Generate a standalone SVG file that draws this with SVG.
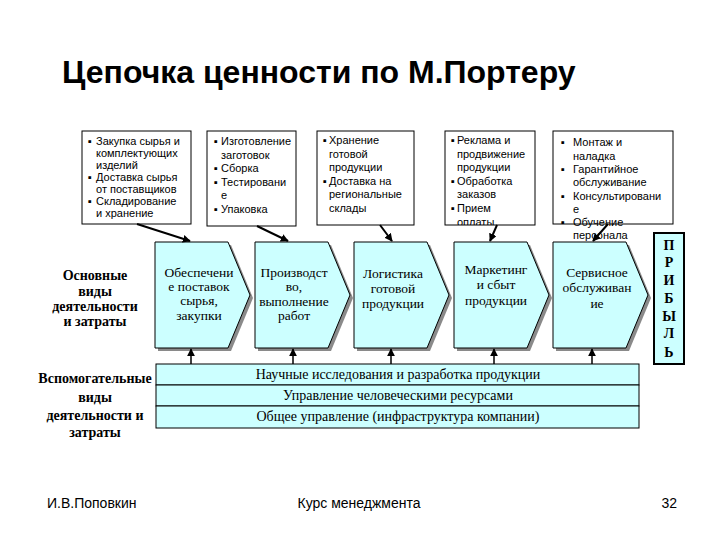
<svg xmlns="http://www.w3.org/2000/svg" width="720" height="540" viewBox="0 0 720 540">
<defs>
<style>
.box{fill:#fff;stroke:#000;stroke-width:1}
.bt{font-family:"Liberation Sans",Arial,sans-serif;font-size:11px;fill:#000}
.chev{fill:#ccffff;stroke:#000;stroke-width:1}
.shadow{fill:#8a8a8a;stroke:none}
.ct{font-family:"Liberation Serif","Times New Roman",serif;font-size:13.5px;fill:#000;text-anchor:middle}
.lt{font-family:"Liberation Serif","Times New Roman",serif;font-size:14px;font-weight:bold;fill:#000;text-anchor:middle}
.band{fill:#ccffff;stroke:#000;stroke-width:1}
.bnt{font-family:"Liberation Serif","Times New Roman",serif;font-size:14px;fill:#000;text-anchor:middle}
.ft{font-family:"Liberation Sans",Arial,sans-serif;font-size:14px;fill:#000}
.arr{stroke:#000;stroke-width:2;fill:none;marker-end:url(#ah)}
.arr2{stroke:#000;stroke-width:1.5;fill:none;marker-end:url(#ah)}
</style>
<marker id="ah" viewBox="0 0 10 10" refX="9" refY="5" markerWidth="8" markerHeight="8" markerUnits="userSpaceOnUse" orient="auto">
<path d="M0,0 L10,5 L0,10 z" fill="#000"/>
</marker>
<clipPath id="clip4"><rect x="445" y="131" width="90" height="94"/></clipPath>
</defs>
<rect width="720" height="540" fill="#fff"/>

<g id="title">
<text x="62" y="83" font-family="Liberation Sans,Arial,sans-serif" font-size="32" font-weight="bold">Цепочка ценности по М.Портеру</text>
</g>

<g id="box1">
<rect class="box" x="82" y="131" width="109" height="93"/>
<text class="bt"><tspan x="88" y="145">▪</tspan><tspan x="96" y="145">Закупка сырья и</tspan><tspan x="96" y="157">комплектующих</tspan><tspan x="96" y="169">изделий</tspan><tspan x="88" y="181">▪</tspan><tspan x="96" y="181">Доставка сырья</tspan><tspan x="96" y="193">от поставщиков</tspan><tspan x="88" y="205">▪</tspan><tspan x="96" y="205">Складирование</tspan><tspan x="96" y="217">и хранение</tspan></text>
</g>

<g id="box2">
<rect class="box" x="207" y="131" width="89" height="95"/>
<text class="bt"><tspan x="214" y="145">▪</tspan><tspan x="221" y="145">Изготовление</tspan><tspan x="221" y="158.5">заготовок</tspan><tspan x="214" y="172">▪</tspan><tspan x="221" y="172">Сборка</tspan><tspan x="214" y="185.5">▪</tspan><tspan x="221" y="185.5">Тестировани</tspan><tspan x="221" y="199">е</tspan><tspan x="214" y="212.5">▪</tspan><tspan x="221" y="212.5">Упаковка</tspan></text>
</g>

<g id="box3">
<rect class="box" x="317" y="131" width="97" height="94"/>
<text class="bt"><tspan x="323" y="144">▪</tspan><tspan x="329" y="144">Хранение</tspan><tspan x="329" y="157.5">готовой</tspan><tspan x="329" y="171">продукции</tspan><tspan x="323" y="184.5">▪</tspan><tspan x="329" y="184.5">Доставка на</tspan><tspan x="329" y="198">региональные</tspan><tspan x="329" y="211.5">склады</tspan></text>
</g>

<g id="box4">
<rect class="box" x="445" y="131" width="90" height="94"/>
<text class="bt" clip-path="url(#clip4)"><tspan x="451" y="144">▪</tspan><tspan x="457" y="144">Реклама и</tspan><tspan x="457" y="157.5">продвижение</tspan><tspan x="457" y="171">продукции</tspan><tspan x="451" y="184.5">▪</tspan><tspan x="457" y="184.5">Обработка</tspan><tspan x="457" y="198">заказов</tspan><tspan x="451" y="211.5">▪</tspan><tspan x="457" y="211.5">Прием</tspan><tspan x="457" y="225.5">оплаты</tspan></text>
</g>

<g id="box5">
<text class="bt"><tspan x="561" y="146">▪</tspan><tspan x="573" y="146">Монтаж и</tspan><tspan x="573" y="159.5">наладка</tspan><tspan x="561" y="173">▪</tspan><tspan x="573" y="173">Гарантийное</tspan><tspan x="573" y="186">обслуживание</tspan><tspan x="561" y="199.5">▪</tspan><tspan x="573" y="199.5">Консультировани</tspan><tspan x="573" y="212.5">е</tspan><tspan x="561" y="226">▪</tspan><tspan x="573" y="226">Обучение</tspan><tspan x="573" y="239">персонала</tspan></text>
<rect class="box" x="553" y="131" width="120" height="93" style="fill:none"/>
</g>

<g id="chev1">
<polygon class="shadow" points="158,245 231,245 253,298 231,351 158,351"/>
<polygon class="chev" points="155,242 228,242 250,295 228,348 155,348"/>
<text class="ct"><tspan x="199" y="277">Обеспечени</tspan><tspan x="199" y="291">е поставок</tspan><tspan x="199" y="305">сырья,</tspan><tspan x="199" y="320">закупки</tspan></text>
</g>
<g id="chev2">
<polygon class="shadow" points="258,245 331,245 353,298 331,351 258,351"/>
<polygon class="chev" points="255,242 328,242 350,295 328,348 255,348"/>
<text class="ct"><tspan x="294" y="277">Производст</tspan><tspan x="294" y="291">во,</tspan><tspan x="294" y="306">выполнение</tspan><tspan x="294" y="320">работ</tspan></text>
</g>
<g id="chev3">
<polygon class="shadow" points="357,245 430,245 452,298 430,351 357,351"/>
<polygon class="chev" points="354,242 427,242 449,295 427,348 354,348"/>
<text class="ct"><tspan x="393" y="278">Логистика</tspan><tspan x="393" y="293">готовой</tspan><tspan x="393" y="308">продукции</tspan></text>
</g>
<g id="chev4">
<polygon class="shadow" points="457,245 530,245 552,298 530,351 457,351"/>
<polygon class="chev" points="454,242 527,242 549,295 527,348 454,348"/>
<text class="ct"><tspan x="496" y="274">Маркетинг</tspan><tspan x="496" y="289">и сбыт</tspan><tspan x="496" y="305">продукции</tspan></text>
</g>
<g id="chev5">
<polygon class="shadow" points="556,245 629,245 651,298 629,351 556,351"/>
<polygon class="chev" points="553,242 626,242 648,295 626,348 553,348"/>
<text class="ct"><tspan x="597" y="277">Сервисное</tspan><tspan x="597" y="292">обслуживан</tspan><tspan x="597" y="308">ие</tspan></text>
</g>

<g id="profit">
<rect x="654" y="233" width="30" height="131" fill="#ccffff" stroke="#000" stroke-width="2"/>
<text class="lt"><tspan x="669" y="250">П</tspan><tspan x="669" y="267">Р</tspan><tspan x="669" y="285">И</tspan><tspan x="669" y="303">Б</tspan><tspan x="669" y="321">Ы</tspan><tspan x="669" y="338">Л</tspan><tspan x="669" y="357">Ь</tspan></text>
</g>

<g id="label-primary">
<text class="lt"><tspan x="95" y="280">Основные</tspan><tspan x="95" y="296">виды</tspan><tspan x="95" y="311">деятельности</tspan><tspan x="95" y="326">и затраты</tspan></text>
</g>
<g id="label-support">
<text class="lt"><tspan x="95" y="383">Вспомогательные</tspan><tspan x="95" y="402">виды</tspan><tspan x="95" y="420">деятельности и</tspan><tspan x="95" y="437">затраты</tspan></text>
</g>

<g id="support">
<rect class="band" x="156" y="364" width="483" height="21"/>
<rect class="band" x="156" y="385" width="483" height="21"/>
<rect class="band" x="156" y="406" width="483" height="22"/>
<text class="bnt" x="398" y="379">Научные исследования и разработка продукции</text>
<text class="bnt" x="398" y="400">Управление человеческими ресурсами</text>
<text class="bnt" x="398" y="421">Общее управление (инфраструктура компании)</text>
</g>

<g id="connectors">
<line class="arr" x1="137" y1="224" x2="190" y2="241"/>
<line class="arr" x1="257" y1="226" x2="288" y2="241"/>
<line class="arr" x1="380" y1="225" x2="392" y2="241"/>
<line class="arr" x1="497" y1="225" x2="490" y2="241"/>
<line class="arr" x1="608" y1="224" x2="593" y2="241"/>
<line class="arr2" x1="191" y1="364" x2="191" y2="349"/>
<line class="arr2" x1="293" y1="364" x2="293" y2="349"/>
<line class="arr2" x1="391" y1="364" x2="391" y2="349"/>
<line class="arr2" x1="494" y1="364" x2="494" y2="349"/>
<line class="arr2" x1="592" y1="364" x2="592" y2="349"/>
</g>

<g id="footer">
<text class="ft" x="47" y="508">И.В.Поповкин</text>
<text class="ft" x="359" y="508" text-anchor="middle">Курс менеджмента</text>
<text class="ft" x="677" y="508" text-anchor="end">32</text>
</g>
</svg>
